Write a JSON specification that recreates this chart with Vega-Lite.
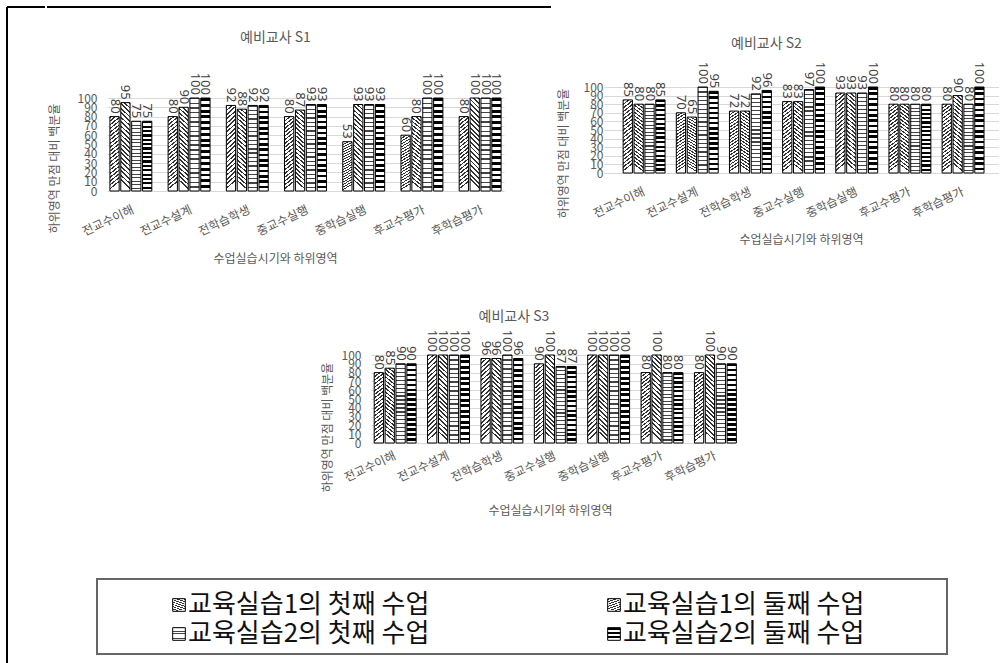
{
  "$schema": "https://vega.github.io/schema/vega-lite/v6.json",
  "padding": {"left": 6, "top": 6, "right": 0, "bottom": 0},
  "background": "white",
  "spacing": 0,
  "config": {
    "view": {"stroke": null},
    "font": "Noto Sans CJK KR",
    "title": {"font": "Noto Sans CJK KR", "fontSize": 14, "fontWeight": "normal", "color": "#595959", "frame": "group"},
    "axis": {"labelFont": "Noto Sans CJK KR", "titleFont": "Noto Sans CJK KR", "labelColor": "#595959", "titleColor": "#595959", "titleFontWeight": "normal", "titleFontSize": 12, "labelFontSize": 12, "domain": false, "ticks": false, "gridColor": "#d9d9d9"}
  },
  "params": [
    {"name": "pats", "value": {
      "a": {"gradient": "linear", "x1": 0, "y1": 0, "x2": 0.1, "y2": 1, "stops": [
        {"offset":0,"color":"#333"},{"offset":0.02,"color":"#333"},{"offset":0.02,"color":"#fff"},{"offset":0.05,"color":"#fff"},
        {"offset":0.05,"color":"#333"},{"offset":0.07,"color":"#333"},{"offset":0.07,"color":"#fff"},{"offset":0.1,"color":"#fff"},
        {"offset":0.1,"color":"#333"},{"offset":0.12,"color":"#333"},{"offset":0.12,"color":"#fff"},{"offset":0.15,"color":"#fff"},
        {"offset":0.15,"color":"#333"},{"offset":0.17,"color":"#333"},{"offset":0.17,"color":"#fff"},{"offset":0.2,"color":"#fff"},
        {"offset":0.2,"color":"#333"},{"offset":0.22,"color":"#333"},{"offset":0.22,"color":"#fff"},{"offset":0.25,"color":"#fff"},
        {"offset":0.25,"color":"#333"},{"offset":0.27,"color":"#333"},{"offset":0.27,"color":"#fff"},{"offset":0.3,"color":"#fff"},
        {"offset":0.3,"color":"#333"},{"offset":0.32,"color":"#333"},{"offset":0.32,"color":"#fff"},{"offset":0.35,"color":"#fff"},
        {"offset":0.35,"color":"#333"},{"offset":0.37,"color":"#333"},{"offset":0.37,"color":"#fff"},{"offset":0.4,"color":"#fff"},
        {"offset":0.4,"color":"#333"},{"offset":0.42,"color":"#333"},{"offset":0.42,"color":"#fff"},{"offset":0.45,"color":"#fff"},
        {"offset":0.45,"color":"#333"},{"offset":0.47,"color":"#333"},{"offset":0.47,"color":"#fff"},{"offset":0.5,"color":"#fff"},
        {"offset":0.5,"color":"#333"},{"offset":0.52,"color":"#333"},{"offset":0.52,"color":"#fff"},{"offset":0.55,"color":"#fff"},
        {"offset":0.55,"color":"#333"},{"offset":0.57,"color":"#333"},{"offset":0.57,"color":"#fff"},{"offset":0.6,"color":"#fff"},
        {"offset":0.6,"color":"#333"},{"offset":0.62,"color":"#333"},{"offset":0.62,"color":"#fff"},{"offset":0.65,"color":"#fff"},
        {"offset":0.65,"color":"#333"},{"offset":0.67,"color":"#333"},{"offset":0.67,"color":"#fff"},{"offset":0.7,"color":"#fff"},
        {"offset":0.7,"color":"#333"},{"offset":0.72,"color":"#333"},{"offset":0.72,"color":"#fff"},{"offset":0.75,"color":"#fff"},
        {"offset":0.75,"color":"#333"},{"offset":0.77,"color":"#333"},{"offset":0.77,"color":"#fff"},{"offset":0.8,"color":"#fff"},
        {"offset":0.8,"color":"#333"},{"offset":0.82,"color":"#333"},{"offset":0.82,"color":"#fff"},{"offset":0.85,"color":"#fff"},
        {"offset":0.85,"color":"#333"},{"offset":0.87,"color":"#333"},{"offset":0.87,"color":"#fff"},{"offset":0.9,"color":"#fff"},
        {"offset":0.9,"color":"#333"},{"offset":0.92,"color":"#333"},{"offset":0.92,"color":"#fff"},{"offset":0.95,"color":"#fff"},
        {"offset":0.95,"color":"#333"},{"offset":0.97,"color":"#333"},{"offset":0.97,"color":"#fff"},{"offset":1,"color":"#fff"}
      ]},
      "b": {"gradient": "linear", "x1": 1, "y1": 0, "x2": 0.9, "y2": 1, "stops": [
        {"offset":0,"color":"#333"},{"offset":0.02,"color":"#333"},{"offset":0.02,"color":"#fff"},{"offset":0.05,"color":"#fff"},
        {"offset":0.05,"color":"#333"},{"offset":0.07,"color":"#333"},{"offset":0.07,"color":"#fff"},{"offset":0.1,"color":"#fff"},
        {"offset":0.1,"color":"#333"},{"offset":0.12,"color":"#333"},{"offset":0.12,"color":"#fff"},{"offset":0.15,"color":"#fff"},
        {"offset":0.15,"color":"#333"},{"offset":0.17,"color":"#333"},{"offset":0.17,"color":"#fff"},{"offset":0.2,"color":"#fff"},
        {"offset":0.2,"color":"#333"},{"offset":0.22,"color":"#333"},{"offset":0.22,"color":"#fff"},{"offset":0.25,"color":"#fff"},
        {"offset":0.25,"color":"#333"},{"offset":0.27,"color":"#333"},{"offset":0.27,"color":"#fff"},{"offset":0.3,"color":"#fff"},
        {"offset":0.3,"color":"#333"},{"offset":0.32,"color":"#333"},{"offset":0.32,"color":"#fff"},{"offset":0.35,"color":"#fff"},
        {"offset":0.35,"color":"#333"},{"offset":0.37,"color":"#333"},{"offset":0.37,"color":"#fff"},{"offset":0.4,"color":"#fff"},
        {"offset":0.4,"color":"#333"},{"offset":0.42,"color":"#333"},{"offset":0.42,"color":"#fff"},{"offset":0.45,"color":"#fff"},
        {"offset":0.45,"color":"#333"},{"offset":0.47,"color":"#333"},{"offset":0.47,"color":"#fff"},{"offset":0.5,"color":"#fff"},
        {"offset":0.5,"color":"#333"},{"offset":0.52,"color":"#333"},{"offset":0.52,"color":"#fff"},{"offset":0.55,"color":"#fff"},
        {"offset":0.55,"color":"#333"},{"offset":0.57,"color":"#333"},{"offset":0.57,"color":"#fff"},{"offset":0.6,"color":"#fff"},
        {"offset":0.6,"color":"#333"},{"offset":0.62,"color":"#333"},{"offset":0.62,"color":"#fff"},{"offset":0.65,"color":"#fff"},
        {"offset":0.65,"color":"#333"},{"offset":0.67,"color":"#333"},{"offset":0.67,"color":"#fff"},{"offset":0.7,"color":"#fff"},
        {"offset":0.7,"color":"#333"},{"offset":0.72,"color":"#333"},{"offset":0.72,"color":"#fff"},{"offset":0.75,"color":"#fff"},
        {"offset":0.75,"color":"#333"},{"offset":0.77,"color":"#333"},{"offset":0.77,"color":"#fff"},{"offset":0.8,"color":"#fff"},
        {"offset":0.8,"color":"#333"},{"offset":0.82,"color":"#333"},{"offset":0.82,"color":"#fff"},{"offset":0.85,"color":"#fff"},
        {"offset":0.85,"color":"#333"},{"offset":0.87,"color":"#333"},{"offset":0.87,"color":"#fff"},{"offset":0.9,"color":"#fff"},
        {"offset":0.9,"color":"#333"},{"offset":0.92,"color":"#333"},{"offset":0.92,"color":"#fff"},{"offset":0.95,"color":"#fff"},
        {"offset":0.95,"color":"#333"},{"offset":0.97,"color":"#333"},{"offset":0.97,"color":"#fff"},{"offset":1,"color":"#fff"}
      ]},
      "c": {"gradient": "linear", "x1": 0, "y1": 0, "x2": 0, "y2": 1, "stops": [
        {"offset":0,"color":"#444"},{"offset":0.015,"color":"#444"},{"offset":0.015,"color":"#fff"},{"offset":0.05,"color":"#fff"},
        {"offset":0.05,"color":"#444"},{"offset":0.065,"color":"#444"},{"offset":0.065,"color":"#fff"},{"offset":0.1,"color":"#fff"},
        {"offset":0.1,"color":"#444"},{"offset":0.115,"color":"#444"},{"offset":0.115,"color":"#fff"},{"offset":0.15,"color":"#fff"},
        {"offset":0.15,"color":"#444"},{"offset":0.165,"color":"#444"},{"offset":0.165,"color":"#fff"},{"offset":0.2,"color":"#fff"},
        {"offset":0.2,"color":"#444"},{"offset":0.215,"color":"#444"},{"offset":0.215,"color":"#fff"},{"offset":0.25,"color":"#fff"},
        {"offset":0.25,"color":"#444"},{"offset":0.265,"color":"#444"},{"offset":0.265,"color":"#fff"},{"offset":0.3,"color":"#fff"},
        {"offset":0.3,"color":"#444"},{"offset":0.315,"color":"#444"},{"offset":0.315,"color":"#fff"},{"offset":0.35,"color":"#fff"},
        {"offset":0.35,"color":"#444"},{"offset":0.365,"color":"#444"},{"offset":0.365,"color":"#fff"},{"offset":0.4,"color":"#fff"},
        {"offset":0.4,"color":"#444"},{"offset":0.415,"color":"#444"},{"offset":0.415,"color":"#fff"},{"offset":0.45,"color":"#fff"},
        {"offset":0.45,"color":"#444"},{"offset":0.465,"color":"#444"},{"offset":0.465,"color":"#fff"},{"offset":0.5,"color":"#fff"},
        {"offset":0.5,"color":"#444"},{"offset":0.515,"color":"#444"},{"offset":0.515,"color":"#fff"},{"offset":0.55,"color":"#fff"},
        {"offset":0.55,"color":"#444"},{"offset":0.565,"color":"#444"},{"offset":0.565,"color":"#fff"},{"offset":0.6,"color":"#fff"},
        {"offset":0.6,"color":"#444"},{"offset":0.615,"color":"#444"},{"offset":0.615,"color":"#fff"},{"offset":0.65,"color":"#fff"},
        {"offset":0.65,"color":"#444"},{"offset":0.665,"color":"#444"},{"offset":0.665,"color":"#fff"},{"offset":0.7,"color":"#fff"},
        {"offset":0.7,"color":"#444"},{"offset":0.715,"color":"#444"},{"offset":0.715,"color":"#fff"},{"offset":0.75,"color":"#fff"},
        {"offset":0.75,"color":"#444"},{"offset":0.765,"color":"#444"},{"offset":0.765,"color":"#fff"},{"offset":0.8,"color":"#fff"},
        {"offset":0.8,"color":"#444"},{"offset":0.815,"color":"#444"},{"offset":0.815,"color":"#fff"},{"offset":0.85,"color":"#fff"},
        {"offset":0.85,"color":"#444"},{"offset":0.865,"color":"#444"},{"offset":0.865,"color":"#fff"},{"offset":0.9,"color":"#fff"},
        {"offset":0.9,"color":"#444"},{"offset":0.915,"color":"#444"},{"offset":0.915,"color":"#fff"},{"offset":0.95,"color":"#fff"},
        {"offset":0.95,"color":"#444"},{"offset":0.965,"color":"#444"},{"offset":0.965,"color":"#fff"},{"offset":1,"color":"#fff"}
      ]},
      "d": {"gradient": "linear", "x1": 0, "y1": 0, "x2": 0, "y2": 1, "stops": [
        {"offset":0,"color":"#000"},{"offset":0.03125,"color":"#000"},{"offset":0.03125,"color":"#fff"},{"offset":0.0625,"color":"#fff"},
        {"offset":0.0625,"color":"#000"},{"offset":0.09375,"color":"#000"},{"offset":0.09375,"color":"#fff"},{"offset":0.125,"color":"#fff"},
        {"offset":0.125,"color":"#000"},{"offset":0.15625,"color":"#000"},{"offset":0.15625,"color":"#fff"},{"offset":0.1875,"color":"#fff"},
        {"offset":0.1875,"color":"#000"},{"offset":0.21875,"color":"#000"},{"offset":0.21875,"color":"#fff"},{"offset":0.25,"color":"#fff"},
        {"offset":0.25,"color":"#000"},{"offset":0.28125,"color":"#000"},{"offset":0.28125,"color":"#fff"},{"offset":0.3125,"color":"#fff"},
        {"offset":0.3125,"color":"#000"},{"offset":0.34375,"color":"#000"},{"offset":0.34375,"color":"#fff"},{"offset":0.375,"color":"#fff"},
        {"offset":0.375,"color":"#000"},{"offset":0.40625,"color":"#000"},{"offset":0.40625,"color":"#fff"},{"offset":0.4375,"color":"#fff"},
        {"offset":0.4375,"color":"#000"},{"offset":0.46875,"color":"#000"},{"offset":0.46875,"color":"#fff"},{"offset":0.5,"color":"#fff"},
        {"offset":0.5,"color":"#000"},{"offset":0.53125,"color":"#000"},{"offset":0.53125,"color":"#fff"},{"offset":0.5625,"color":"#fff"},
        {"offset":0.5625,"color":"#000"},{"offset":0.59375,"color":"#000"},{"offset":0.59375,"color":"#fff"},{"offset":0.625,"color":"#fff"},
        {"offset":0.625,"color":"#000"},{"offset":0.65625,"color":"#000"},{"offset":0.65625,"color":"#fff"},{"offset":0.6875,"color":"#fff"},
        {"offset":0.6875,"color":"#000"},{"offset":0.71875,"color":"#000"},{"offset":0.71875,"color":"#fff"},{"offset":0.75,"color":"#fff"},
        {"offset":0.75,"color":"#000"},{"offset":0.78125,"color":"#000"},{"offset":0.78125,"color":"#fff"},{"offset":0.8125,"color":"#fff"},
        {"offset":0.8125,"color":"#000"},{"offset":0.84375,"color":"#000"},{"offset":0.84375,"color":"#fff"},{"offset":0.875,"color":"#fff"},
        {"offset":0.875,"color":"#000"},{"offset":0.90625,"color":"#000"},{"offset":0.90625,"color":"#fff"},{"offset":0.9375,"color":"#fff"},
        {"offset":0.9375,"color":"#000"},{"offset":0.96875,"color":"#000"},{"offset":0.96875,"color":"#fff"},{"offset":1,"color":"#fff"}
      ]}
    }}
  ],
  "datasets": {
    "bars": [
      {"p":"S1","area":"전교수이해","s":"a","v":80},{"p":"S1","area":"전교수이해","s":"b","v":95},{"p":"S1","area":"전교수이해","s":"c","v":75},{"p":"S1","area":"전교수이해","s":"d","v":75},
      {"p":"S1","area":"전교수설계","s":"a","v":80},{"p":"S1","area":"전교수설계","s":"b","v":90},{"p":"S1","area":"전교수설계","s":"c","v":100},{"p":"S1","area":"전교수설계","s":"d","v":100},
      {"p":"S1","area":"전학습학생","s":"a","v":92},{"p":"S1","area":"전학습학생","s":"b","v":88},{"p":"S1","area":"전학습학생","s":"c","v":92},{"p":"S1","area":"전학습학생","s":"d","v":92},
      {"p":"S1","area":"중교수실행","s":"a","v":80},{"p":"S1","area":"중교수실행","s":"b","v":87},{"p":"S1","area":"중교수실행","s":"c","v":93},{"p":"S1","area":"중교수실행","s":"d","v":93},
      {"p":"S1","area":"중학습실행","s":"a","v":53},{"p":"S1","area":"중학습실행","s":"b","v":93},{"p":"S1","area":"중학습실행","s":"c","v":93},{"p":"S1","area":"중학습실행","s":"d","v":93},
      {"p":"S1","area":"후교수평가","s":"a","v":60},{"p":"S1","area":"후교수평가","s":"b","v":80},{"p":"S1","area":"후교수평가","s":"c","v":100},{"p":"S1","area":"후교수평가","s":"d","v":100},
      {"p":"S1","area":"후학습평가","s":"a","v":80},{"p":"S1","area":"후학습평가","s":"b","v":100},{"p":"S1","area":"후학습평가","s":"c","v":100},{"p":"S1","area":"후학습평가","s":"d","v":100},
      {"p":"S2","area":"전교수이해","s":"a","v":85},{"p":"S2","area":"전교수이해","s":"b","v":80},{"p":"S2","area":"전교수이해","s":"c","v":80},{"p":"S2","area":"전교수이해","s":"d","v":85},
      {"p":"S2","area":"전교수설계","s":"a","v":70},{"p":"S2","area":"전교수설계","s":"b","v":65},{"p":"S2","area":"전교수설계","s":"c","v":100},{"p":"S2","area":"전교수설계","s":"d","v":95},
      {"p":"S2","area":"전학습학생","s":"a","v":72},{"p":"S2","area":"전학습학생","s":"b","v":72},{"p":"S2","area":"전학습학생","s":"c","v":92},{"p":"S2","area":"전학습학생","s":"d","v":96},
      {"p":"S2","area":"중교수실행","s":"a","v":83},{"p":"S2","area":"중교수실행","s":"b","v":83},{"p":"S2","area":"중교수실행","s":"c","v":97},{"p":"S2","area":"중교수실행","s":"d","v":100},
      {"p":"S2","area":"중학습실행","s":"a","v":93},{"p":"S2","area":"중학습실행","s":"b","v":93},{"p":"S2","area":"중학습실행","s":"c","v":93},{"p":"S2","area":"중학습실행","s":"d","v":100},
      {"p":"S2","area":"후교수평가","s":"a","v":80},{"p":"S2","area":"후교수평가","s":"b","v":80},{"p":"S2","area":"후교수평가","s":"c","v":80},{"p":"S2","area":"후교수평가","s":"d","v":80},
      {"p":"S2","area":"후학습평가","s":"a","v":80},{"p":"S2","area":"후학습평가","s":"b","v":90},{"p":"S2","area":"후학습평가","s":"c","v":80},{"p":"S2","area":"후학습평가","s":"d","v":100},
      {"p":"S3","area":"전교수이해","s":"a","v":80},{"p":"S3","area":"전교수이해","s":"b","v":85},{"p":"S3","area":"전교수이해","s":"c","v":90},{"p":"S3","area":"전교수이해","s":"d","v":90},
      {"p":"S3","area":"전교수설계","s":"a","v":100},{"p":"S3","area":"전교수설계","s":"b","v":100},{"p":"S3","area":"전교수설계","s":"c","v":100},{"p":"S3","area":"전교수설계","s":"d","v":100},
      {"p":"S3","area":"전학습학생","s":"a","v":96},{"p":"S3","area":"전학습학생","s":"b","v":96},{"p":"S3","area":"전학습학생","s":"c","v":100},{"p":"S3","area":"전학습학생","s":"d","v":96},
      {"p":"S3","area":"중교수실행","s":"a","v":90},{"p":"S3","area":"중교수실행","s":"b","v":100},{"p":"S3","area":"중교수실행","s":"c","v":87},{"p":"S3","area":"중교수실행","s":"d","v":87},
      {"p":"S3","area":"중학습실행","s":"a","v":100},{"p":"S3","area":"중학습실행","s":"b","v":100},{"p":"S3","area":"중학습실행","s":"c","v":100},{"p":"S3","area":"중학습실행","s":"d","v":100},
      {"p":"S3","area":"후교수평가","s":"a","v":80},{"p":"S3","area":"후교수평가","s":"b","v":100},{"p":"S3","area":"후교수평가","s":"c","v":80},{"p":"S3","area":"후교수평가","s":"d","v":80},
      {"p":"S3","area":"후학습평가","s":"a","v":80},{"p":"S3","area":"후학습평가","s":"b","v":100},{"p":"S3","area":"후학습평가","s":"c","v":90},{"p":"S3","area":"후학습평가","s":"d","v":90}
    ],
    "legend": [
      {"s":"a","label":"교육실습1의 첫째 수업","practice":"1","lesson":"첫째"},
      {"s":"b","label":"교육실습1의 둘째 수업","practice":"1","lesson":"둘째"},
      {"s":"c","label":"교육실습2의 첫째 수업","practice":"2","lesson":"첫째"},
      {"s":"d","label":"교육실습2의 둘째 수업","practice":"2","lesson":"둘째"}
    ]
  },
  "hconcat": [
    {
      "width": 38, "height": 657,
      "data": {"values": [{}]},
      "layer": [
        {"mark": {"type": "rule", "color": "#000", "strokeWidth": 2}, "encoding": {"y": {"datum": 1, "type": "quantitative", "scale": {"domain": [0, 1]}, "axis": null}}},
        {"mark": {"type": "rule", "color": "#000", "strokeWidth": 2}, "encoding": {"x": {"datum": 0, "type": "quantitative", "scale": {"domain": [0, 1]}, "axis": null}}}
      ]
    },
    {
      "spacing": 0,
      "vconcat": [
        {
          "width": 504, "height": 22,
          "data": {"values": [{}]},
          "mark": {"type": "rule", "color": "#000", "strokeWidth": 2},
          "encoding": {"y": {"datum": 1, "type": "quantitative", "scale": {"domain": [0, 1]}, "axis": null}}
        },
        {
          "spacing": 0,
          "hconcat": [
            {"width": 1, "height": 1, "data": {"values": []}, "mark": "point"},
            {
              "spacing": 53,
              "hconcat": [
                {
                  "spacing": 0,
                  "vconcat": [
                    {"width": 10, "height": 1, "data": {"values": []}, "mark": "point"},
                    {
                      "width": 397, "height": 93,
                      "data": {"name": "bars"},
                      "transform": [{"filter": "datum.p === 'S1'"}],
                      "title": {"text": "예비교사 S1", "dx": -30, "offset": 28},
                      "encoding": {
                        "x": {"field": "area", "type": "nominal", "sort": ["전교수이해","전교수설계","전학습학생","중교수실행","중학습실행","후교수평가","후학습평가"],
                          "scale": {"paddingInner": 0.28, "paddingOuter": 0.05},
                          "axis": {"title": "수업실습시기와 하위영역", "labelAngle": -25, "labelAlign": "right", "labelBaseline": "top", "labelPadding": 13, "titleX": 168, "titleY": 67, "titleBaseline": "middle"}},
                        "xOffset": {"field": "s", "type": "nominal", "scale": {"paddingInner": 0.15, "paddingOuter": 0}},
                        "y": {"field": "v", "type": "quantitative", "scale": {"domain": [0, 100], "nice": false},
                          "axis": {"title": "하위영역 만점 대비 백분율", "values": [0,10,20,30,40,50,60,70,80,90,100], "labelOverlap": false, "labelPadding": 10, "titlePadding": 16, "titleY": 70}}
                      },
                      "layer": [
                        {"mark": {"type": "bar", "stroke": "#000", "strokeWidth": 1}, "encoding": {"fill": {"value": {"expr": "pats[datum.s]"}}}},
                        {"mark": {"type": "text", "angle": 90, "align": "right", "baseline": "middle", "dx": -3, "fontSize": 13, "font": "Noto Sans", "color": "#404040"}, "encoding": {"text": {"field": "v", "type": "quantitative"}}}
                      ]
                    }
                  ]
                },
                {
                  "spacing": 0,
                  "vconcat": [
                    {"width": 10, "height": 7, "data": {"values": []}, "mark": "point"},
                    {
                      "width": 395, "height": 86,
                      "data": {"name": "bars"},
                      "transform": [{"filter": "datum.p === 'S2'"}],
                      "title": {"text": "예비교사 S2", "dx": -35, "offset": 11},
                      "encoding": {
                        "x": {"field": "area", "type": "nominal", "sort": ["전교수이해","전교수설계","전학습학생","중교수실행","중학습실행","후교수평가","후학습평가"],
                          "scale": {"paddingInner": 0.29, "paddingOuter": 0.36},
                          "axis": {"title": "수업실습시기와 하위영역", "labelAngle": -25, "labelAlign": "right", "labelBaseline": "top", "labelPadding": 13, "titleX": 197, "titleY": 66, "titleBaseline": "middle"}},
                        "xOffset": {"field": "s", "type": "nominal", "scale": {"paddingInner": 0.15, "paddingOuter": 0}},
                        "y": {"field": "v", "type": "quantitative", "scale": {"domain": [0, 100], "nice": false},
                          "axis": {"title": "하위영역 만점 대비 백분율", "values": [0,10,20,30,40,50,60,70,80,90,100], "labelOverlap": false, "labelPadding": 1, "titlePadding": 13, "titleY": 66}}
                      },
                      "layer": [
                        {"mark": {"type": "bar", "stroke": "#000", "strokeWidth": 1}, "encoding": {"fill": {"value": {"expr": "pats[datum.s]"}}}},
                        {"mark": {"type": "text", "angle": 90, "align": "right", "baseline": "middle", "dx": -3, "fontSize": 13, "font": "Noto Sans", "color": "#404040"}, "encoding": {"text": {"field": "v", "type": "quantitative"}}}
                      ]
                    }
                  ]
                }
              ]
            }
          ]
        },
        {"width": 10, "height": 45, "data": {"values": []}, "mark": "point"},
        {
          "spacing": 0,
          "hconcat": [
            {"width": 274, "height": 1, "data": {"values": []}, "mark": "point"},
            {
              "width": 364, "height": 88,
              "data": {"name": "bars"},
              "transform": [{"filter": "datum.p === 'S3'"}],
              "title": {"text": "예비교사 S3", "dx": -39, "offset": 6},
              "encoding": {
                "x": {"field": "area", "type": "nominal", "sort": ["전교수이해","전교수설계","전학습학생","중교수실행","중학습실행","후교수평가","후학습평가"],
                  "scale": {"paddingInner": 0.3, "paddingOuter": 0.06},
                  "axis": {"title": "수업실습시기와 하위영역", "labelAngle": -25, "labelAlign": "right", "labelBaseline": "top", "labelPadding": 7, "titleX": 179, "titleY": 67, "titleBaseline": "middle"}},
                "xOffset": {"field": "s", "type": "nominal", "scale": {"paddingInner": 0.15, "paddingOuter": 0}},
                "y": {"field": "v", "type": "quantitative", "scale": {"domain": [0, 100], "nice": false},
                  "axis": {"title": "하위영역 만점 대비 백분율", "values": [0,10,20,30,40,50,60,70,80,90,100], "labelOverlap": false, "labelPadding": 10, "titlePadding": 7, "titleY": 72}}
              },
              "layer": [
                {"mark": {"type": "bar", "stroke": "#000", "strokeWidth": 1}, "encoding": {"fill": {"value": {"expr": "pats[datum.s]"}}}},
                {"mark": {"type": "text", "angle": 90, "align": "right", "baseline": "middle", "dx": -3, "fontSize": 13, "font": "Noto Sans", "color": "#404040"}, "encoding": {"text": {"field": "v", "type": "quantitative"}}}
              ]
            }
          ]
        },
        {"width": 10, "height": 62, "data": {"values": []}, "mark": "point"},
        {
          "spacing": 0,
          "hconcat": [
            {"width": 49, "height": 1, "data": {"values": []}, "mark": "point"},
            {
              "width": 850, "height": 75,
              "view": {"stroke": "#666", "strokeWidth": 2},
              "data": {"name": "legend"},
              "encoding": {
                "x": {"field": "lesson", "type": "nominal", "sort": ["첫째", "둘째"], "scale": {"type": "point", "range": [82, 517], "padding": 0}, "axis": null},
                "y": {"field": "practice", "type": "nominal", "sort": ["1", "2"], "scale": {"type": "point", "range": [26, 55], "padding": 0}, "axis": null}
              },
              "layer": [
                {"mark": {"type": "point", "shape": "square", "size": 160, "filled": true, "opacity": 1, "stroke": "#000", "strokeWidth": 1}, "encoding": {"fill": {"value": {"expr": "pats[datum.s]"}}}},
                {"mark": {"type": "text", "align": "left", "baseline": "middle", "dx": 9, "fontSize": 26, "font": "Noto Sans CJK KR", "color": "#111"}, "encoding": {"text": {"field": "label", "type": "nominal"}}}
              ]
            }
          ]
        }
      ]
    }
  ]
}
